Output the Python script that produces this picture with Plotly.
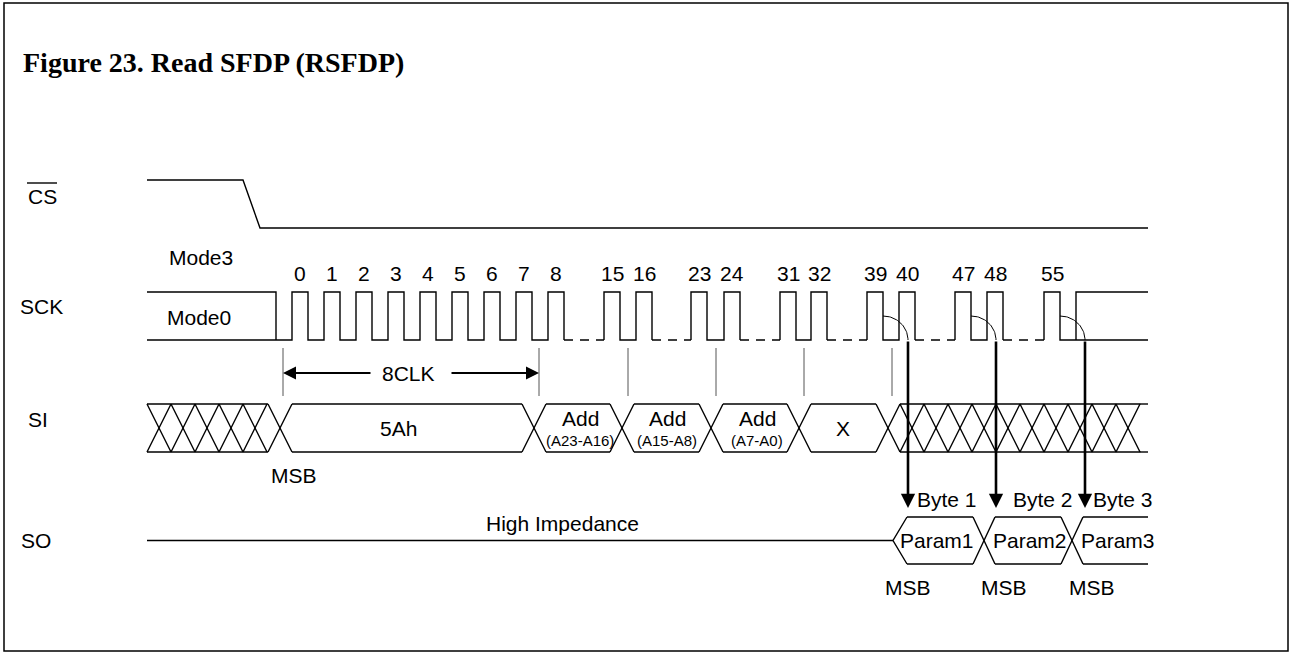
import math
import plotly.graph_objects as go

W, H = 1290, 653
SANS = "Liberation Sans, Arial, sans-serif"
SERIF = "Liberation Serif, Times New Roman, serif"
INK = "#000000"

# drawing grid (pixel units of the page)
X_START, X_END = 147, 1148
CS_HIGH, CS_LOW = 180, 228
SCK_HIGH, SCK_LOW = 292, 340
SI_TOP, SI_BOT = 404, 452
SO_TOP, SO_BOT = 517, 564

# CS falling edge (start, end)
CS_FALL = [243, 260]

# SCK clock numbers and their rising edges
CLK_NUM = ["0", "1", "2", "3", "4", "5", "6", "7", "8", "15", "16",
           "23", "24", "31", "32", "39", "40", "47", "48", "55"]
CLK_RISE = [292, 324, 356, 388, 420, 452, 484, 516, 548, 604, 636,
            691, 724, 780, 811, 867, 899, 955, 987, 1044]
CLK_HIGH_W = 16
GAP_AFTER = ["8", "16", "24", "32", "40", "48"]   # dashed low follows these clocks
MODE3_DROP = 276
MODE3_RISE = 1076
OUT_CLK = ["39", "47", "55"]                      # data out on falling edge of these

# byte boundary markers between SCK and SI
MARK_X = [283, 539, 628, 716, 804, 892]

# SI bus
SI_CROSS = [280, 534, 622, 711, 799, 888]
SI_TEXT = ["5Ah", "Add", "Add", "Add", "X"]
SI_SUB = ["", "(A23-A16)", "(A15-A8)", "(A7-A0)", ""]
SI_TEXT_X = [398, 580, 667, 757, 843]
HATCH_STEP = 24

# SO bus
SO_START = 893
SO_CROSS = [984, 1072]
SO_TEXT = ["Param1", "Param2", "Param3"]
SO_TEXT_X = [937, 1030, 1118]
BYTE_TEXT = ["Byte 1", "Byte 2", "Byte 3"]
BYTE_X = [947, 1043, 1123]
MSB_X = [294, 908, 1004, 1092]

SIG_NAMES = ["CS", "SCK", "SI", "SO"]
SIG_X = [42, 41, 38, 36]
SIG_Y = [196, 306, 419, 540]

xs, ys = [], []


def seg(points):
    for px, py in points:
        xs.append(px)
        ys.append(py)
    xs.append(None)
    ys.append(None)


# CS
seg([(X_START, CS_HIGH), (CS_FALL[0], CS_HIGH), (CS_FALL[1], CS_LOW), (X_END, CS_LOW)])

# SCK
seg([(X_START, SCK_HIGH), (MODE3_DROP, SCK_HIGH), (MODE3_DROP, SCK_LOW)])
dash_x, dash_y = [], []
wave = [(X_START, SCK_LOW)]
for i, (n, r) in enumerate(zip(CLK_NUM, CLK_RISE)):
    f = r + CLK_HIGH_W
    wave += [(r, SCK_LOW), (r, SCK_HIGH), (f, SCK_HIGH), (f, SCK_LOW)]
    if n in GAP_AFTER:
        seg(wave)
        nxt = CLK_RISE[i + 1]
        dash_x += [f, nxt, None]
        dash_y += [SCK_LOW, SCK_LOW, None]
        wave = [(nxt, SCK_LOW)]
wave += [(X_END, SCK_LOW)]
seg(wave)
seg([(MODE3_RISE, SCK_LOW), (MODE3_RISE, SCK_HIGH), (X_END, SCK_HIGH)])

# SI bus
h = 12
mid = (SI_TOP + SI_BOT) / 2


def hatch(x0, x1):
    seg([(x0, SI_TOP), (x1, SI_TOP)])
    seg([(x0, SI_BOT), (x1, SI_BOT)])
    x = x0
    while x + HATCH_STEP <= x1 + 1:
        seg([(x, SI_TOP), (x + HATCH_STEP, SI_BOT)])
        seg([(x, SI_BOT), (x + HATCH_STEP, SI_TOP)])
        x += HATCH_STEP


hatch(X_START, SI_CROSS[0] - h)
for c in SI_CROSS:
    seg([(c - h, SI_TOP), (c + h, SI_BOT)])
    seg([(c - h, SI_BOT), (c + h, SI_TOP)])
for a, b in zip(SI_CROSS[:-1], SI_CROSS[1:]):
    seg([(a + h, SI_TOP), (b - h, SI_TOP)])
    seg([(a + h, SI_BOT), (b - h, SI_BOT)])
hatch(SI_CROSS[-1] + h, X_END - 7)
seg([(X_END - 7, SI_TOP), (X_END, SI_TOP)])
seg([(X_END - 7, SI_BOT), (X_END, SI_BOT)])

# SO
so_mid = (SO_TOP + SO_BOT) / 2
seg([(X_START, so_mid), (SO_START, so_mid)])
seg([(SO_START + 14, SO_TOP), (SO_START, so_mid), (SO_START + 14, SO_BOT)])
for c in SO_CROSS:
    seg([(c - 11, SO_TOP), (c + 11, SO_BOT)])
    seg([(c - 11, SO_BOT), (c + 11, SO_TOP)])
ends = [c - 11 for c in SO_CROSS] + [X_END]
starts = [SO_START + 14] + [c + 11 for c in SO_CROSS]
for a, b in zip(starts, ends):
    seg([(a, SO_TOP), (b, SO_TOP)])
    seg([(a, SO_BOT), (b, SO_BOT)])

fig = go.Figure()
fig.add_trace(go.Scatter(x=xs, y=ys, mode="lines", line=dict(color=INK, width=1.4),
                         hoverinfo="skip", showlegend=False))
fig.add_trace(go.Scatter(x=dash_x, y=dash_y, mode="lines",
                         line=dict(color=INK, width=1.4, dash="9px,7px"),
                         hoverinfo="skip", showlegend=False))

# byte markers
mx, my = [], []
for m in MARK_X:
    mx += [m, m, None]
    my += [348, 396, None]
fig.add_trace(go.Scatter(x=mx, y=my, mode="lines", line=dict(color="#555555", width=1),
                         hoverinfo="skip", showlegend=False))

# arcs from falling SCK edge to the output arrows
out_x = []
for n in OUT_CLK:
    f = CLK_RISE[CLK_NUM.index(n)] + CLK_HIGH_W
    ax_, ay_ = [], []
    for k in range(31):
        t = math.pi / 2 * (1 - k / 30)
        ax_.append(f + 25 * math.cos(t))
        ay_.append(SCK_LOW - 24 * math.sin(t))
    out_x.append(f + 25)
    fig.add_trace(go.Scatter(x=ax_, y=ay_, mode="lines", line=dict(color=INK, width=1),
                             hoverinfo="skip", showlegend=False))

annos = []
for x in out_x:
    annos.append(dict(x=x, y=508, ax=x, ay=SCK_LOW, xref="x", yref="y", axref="x", ayref="y",
                      text="", showarrow=True, arrowhead=2, arrowsize=1.1, arrowwidth=2.6,
                      arrowcolor=INK))

# 8CLK span
annos.append(dict(x=MARK_X[0], y=373, ax=372, ay=373, xref="x", yref="y", axref="x", ayref="y",
                  text="", showarrow=True, arrowhead=2, arrowsize=1.3, arrowwidth=2, arrowcolor=INK))
annos.append(dict(x=MARK_X[1], y=373, ax=450, ay=373, xref="x", yref="y", axref="x", ayref="y",
                  text="", showarrow=True, arrowhead=2, arrowsize=1.3, arrowwidth=2, arrowcolor=INK))


def label(x, y, t, size=21, font=SANS, anchor="center"):
    annos.append(dict(x=x, y=y, xref="x", yref="y", text=t, showarrow=False,
                      xanchor=anchor, yanchor="middle", font=dict(family=font, size=size, color=INK)))


label(408, 373, "8CLK")
for n, r in zip(CLK_NUM, CLK_RISE):
    label(r + CLK_HIGH_W / 2, 273, n)
label(201, 257, "Mode3")
label(199, 317, "Mode0")
for t, s, x in zip(SI_TEXT, SI_SUB, SI_TEXT_X):
    if s:
        label(x, 418, t)
        label(x, 440, s, size=15)
    else:
        label(x, mid, t)
for t, x in zip(SO_TEXT, SO_TEXT_X):
    label(x, so_mid, t)
for t, x in zip(BYTE_TEXT, BYTE_X):
    label(x, 499, t)
label(MSB_X[0], 475, "MSB")
for x in MSB_X[1:]:
    label(x, 587, "MSB")
label(562, 523, "High Impedance")
for t, x, y in zip(SIG_NAMES, SIG_X, SIG_Y):
    label(x, y, t)
label(21, 62, "<b>Figure 23. Read SFDP (RSFDP)</b>", size=28, font=SERIF, anchor="left")

shapes = [
    dict(type="rect", x0=4, y0=3, x1=1288, y1=651, xref="x", yref="y",
         line=dict(color=INK, width=1.5)),
    # overline of CS
    dict(type="line", x0=27, y0=183, x1=57, y1=183, xref="x", yref="y",
         line=dict(color=INK, width=1.4)),
]

fig.update_layout(
    width=W, height=H,
    margin=dict(l=0, r=0, t=0, b=0),
    paper_bgcolor="white", plot_bgcolor="white",
    xaxis=dict(range=[0, W], visible=False, fixedrange=True),
    yaxis=dict(range=[H, 0], visible=False, fixedrange=True),
    annotations=annos, shapes=shapes,
    showlegend=False,
)

# drop the default body margin so the page pixels line up with the drawing grid
fig.write_html("out.html", config={"displayModeBar": False},
               post_script="document.body.style.margin='0px';document.body.style.overflow='hidden';")
